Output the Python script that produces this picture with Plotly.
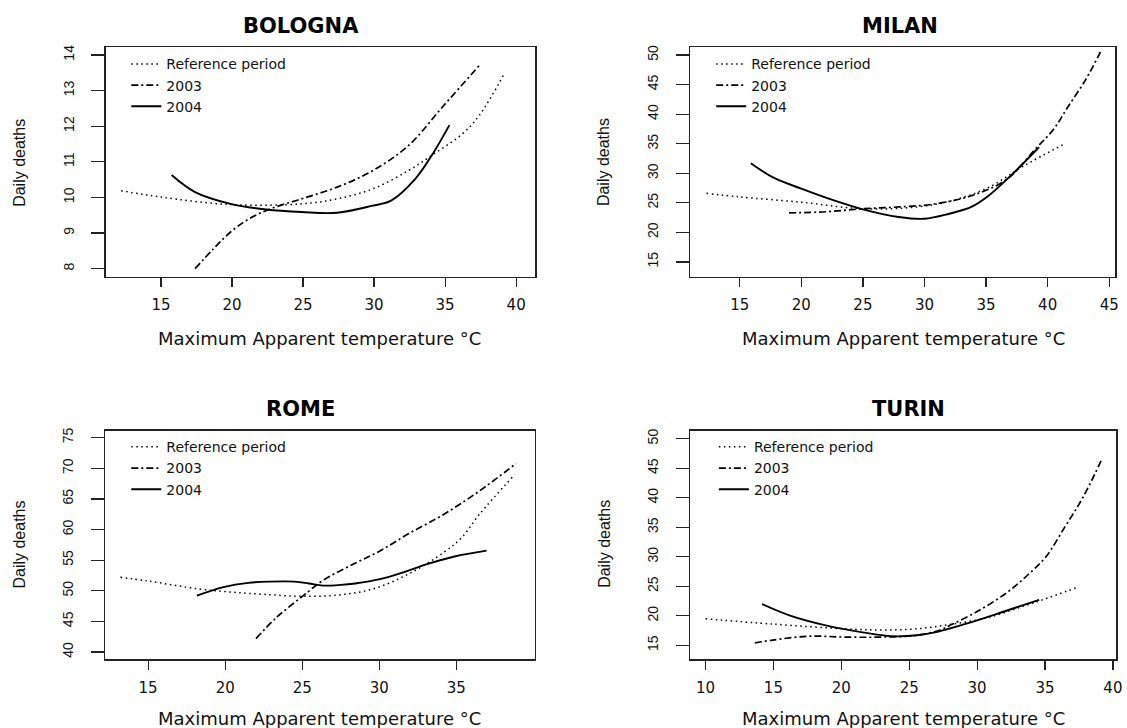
import plotly.graph_objects as go

W, H = 1127, 728

# ---------------- data ----------------
cities = ["BOLOGNA", "MILAN", "ROME", "TURIN"]
series_names = ["Reference period", "2003", "2004"]

bol_ref_x = [12.2, 15.0, 19.9, 24.9, 27.4, 29.9, 32.4, 34.2, 36.2, 37.4, 39.2]
bol_ref_y = [10.19, 10.01, 9.80, 9.82, 9.96, 10.24, 10.75, 11.22, 11.78, 12.30, 13.50]
bol_2003_x = [17.4, 18.7, 19.9, 21.2, 22.7, 24.9, 27.4, 29.9, 32.4, 34.9, 37.4]
bol_2003_y = [8.00, 8.56, 9.03, 9.40, 9.68, 9.96, 10.29, 10.75, 11.45, 12.58, 13.70]
bol_2004_x = [15.75, 17.4, 19.9, 22.4, 24.9, 27.4, 29.9, 31.2, 32.9, 34.2, 35.3]
bol_2004_y = [10.63, 10.15, 9.82, 9.66, 9.59, 9.57, 9.77, 9.91, 10.52, 11.27, 12.03]

mil_ref_x = [12.3, 15.0, 20.0, 25.0, 29.4, 32.3, 35.2, 38.1, 41.3]
mil_ref_y = [26.6, 26.0, 25.1, 24.0, 24.3, 25.4, 27.6, 31.3, 34.9]
mil_2003_x = [19.0, 22.1, 25.0, 27.9, 30.8, 33.8, 36.7, 39.0, 40.5, 41.6, 43.1, 44.4]
mil_2003_y = [23.3, 23.5, 24.0, 24.3, 24.8, 26.2, 29.0, 34.1, 37.5, 41.1, 45.9, 51.0]
mil_2004_x = [15.9, 17.7, 20.0, 22.65, 25.0, 27.9, 30.0, 32.0, 33.8, 35.2, 37.0, 38.1, 39.3]
mil_2004_y = [31.7, 29.3, 27.4, 25.4, 23.9, 22.6, 22.3, 23.15, 24.3, 26.2, 29.6, 31.85, 34.4]

rom_ref_x = [13.2, 15.0, 18.3, 20.35, 22.66, 24.97, 27.27, 29.58, 31.9, 34.2, 35.35, 36.5, 38.8]
rom_ref_y = [52.2, 51.6, 50.3, 49.8, 49.4, 49.1, 49.3, 50.3, 52.75, 56.3, 58.7, 62.5, 69.0]
rom_2003_x = [22.0, 23.35, 24.97, 26.35, 28.43, 30.04, 31.89, 34.2, 36.5, 38.88]
rom_2003_y = [42.2, 45.7, 49.0, 51.7, 54.5, 56.5, 59.3, 62.5, 66.3, 70.8]
rom_2004_x = [18.16, 19.89, 21.5, 22.9, 24.5, 25.43, 26.35, 27.5, 28.43, 30.04, 31.65, 33.04, 34.88, 36.96]
rom_2004_y = [49.2, 50.6, 51.3, 51.5, 51.5, 51.2, 50.85, 50.96, 51.2, 51.9, 53.1, 54.3, 55.6, 56.55]

tur_ref_x = [10.0, 14.96, 20.26, 22.9, 25.56, 28.2, 30.86, 33.5, 34.8, 37.35]
tur_ref_y = [19.5, 18.6, 17.8, 17.6, 17.8, 18.6, 19.75, 21.7, 22.7, 24.8]
tur_2003_x = [13.63, 14.96, 17.6, 20.26, 22.9, 25.56, 27.15, 28.2, 30.06, 32.2, 33.77, 35.1, 36.42, 37.48, 38.28, 39.2]
tur_2003_y = [15.4, 15.9, 16.55, 16.4, 16.4, 16.7, 17.5, 18.6, 20.8, 23.95, 27.0, 30.1, 34.9, 38.8, 42.2, 46.6]
tur_2004_x = [14.16, 16.28, 18.93, 21.58, 23.7, 25.56, 26.88, 29.53, 32.2, 34.57]
tur_2004_y = [22.0, 20.0, 18.35, 17.2, 16.55, 16.7, 17.2, 18.9, 20.9, 22.7]

bol_xticks = [15, 20, 25, 30, 35, 40]
bol_yticks = [8, 9, 10, 11, 12, 13, 14]
mil_xticks = [15, 20, 25, 30, 35, 40, 45]
mil_yticks = [15, 20, 25, 30, 35, 40, 45, 50]
rom_xticks = [15, 20, 25, 30, 35]
rom_yticks = [40, 45, 50, 55, 60, 65, 70, 75]
tur_xticks = [10, 15, 20, 25, 30, 35, 40]
tur_yticks = [15, 20, 25, 30, 35, 40, 45, 50]

x_title = "Maximum Apparent temperature °C"
y_title = "Daily deaths"

# ---------------- layout geometry (pixels) ----------------
panels = [
    dict(name="BOLOGNA", data=[(bol_ref_x, bol_ref_y), (bol_2003_x, bol_2003_y), (bol_2004_x, bol_2004_y)],
         xt=bol_xticks, yt=bol_yticks, xr=[11.12, 41.35], yr=[7.77, 14.22],
         box=(106.4, 538.2, 44.3, 275.0), title=(303, 23.3), xlab=(321, 336.7), ylab=(19.6, 160),
         leg=(127, 45.5)),
    dict(name="MILAN", data=[(mil_ref_x, mil_ref_y), (mil_2003_x, mil_2003_y), (mil_2004_x, mil_2004_y)],
         xt=mil_xticks, yt=mil_yticks, xr=[10.97, 45.47], yr=[12.47, 51.35],
         box=(693.8, 1121.0, 44.3, 275.0), title=(905, 23.3), xlab=(908, 336.7), ylab=(607, 160),
         leg=(715, 45.5)),
    dict(name="ROME", data=[(rom_ref_x, rom_ref_y), (rom_2003_x, rom_2003_y), (rom_2004_x, rom_2004_y)],
         xt=rom_xticks, yt=rom_yticks, xr=[12.23, 40.08], yr=[38.82, 76.13],
         box=(106.0, 537.5, 429.5, 659.0), title=(302, 407.7), xlab=(321, 718), ylab=(19.6, 543.3),
         leg=(127, 430)),
    dict(name="TURIN", data=[(tur_ref_x, tur_ref_y), (tur_2003_x, tur_2003_y), (tur_2004_x, tur_2004_y)],
         xt=tur_xticks, yt=tur_yticks, xr=[8.88, 40.23], yr=[12.64, 51.35],
         box=(694.0, 1122.0, 429.5, 659.0), title=(913, 407.7), xlab=(908, 718), ylab=(607, 543.3),
         leg=(717.7, 430)),
]

dashes = ["1.5px,3.5px", "7px,3px,2px,3px", "solid"]
widths = [1.5, 1.7, 1.9]

HFONT = "DejaVu Sans"
AFONT = "Liberation Sans, Arial, sans-serif"

fig = go.Figure()
layout = dict(width=W, height=H, margin=dict(l=0, r=0, t=0, b=0),
              paper_bgcolor="white", plot_bgcolor="white", annotations=[])

def px(x):
    return x / W

def py(y):
    return 1 - y / H

for i, p in enumerate(panels):
    k = "" if i == 0 else str(i + 1)
    legname = "legend" + k
    for j, (xs, ys) in enumerate(p["data"]):
        fig.add_trace(go.Scatter(
            x=xs, y=ys, mode="lines", name=series_names[j],
            line=dict(color="black", width=widths[j], dash=dashes[j], shape="spline", smoothing=1.0),
            xaxis="x" + k, yaxis="y" + k, legend=legname, showlegend=True,
            hoverinfo="skip"))
    l, r, t, b = p["box"]
    layout["xaxis" + k] = dict(
        domain=[px(l), px(r)], range=p["xr"], anchor="y" + k,
        tickmode="array", tickvals=p["xt"], ticks="outside", ticklen=9, tickwidth=1.2,
        tickcolor="#222", showline=True, linecolor="#222", linewidth=1.5, mirror=True,
        showgrid=False, zeroline=False, ticklabelstandoff=5,
        tickfont=dict(family=HFONT, size=15, color="#111"))
    layout["yaxis" + k] = dict(
        domain=[py(b), py(t)], range=p["yr"], anchor="x" + k,
        tickmode="array", tickvals=p["yt"], ticks="outside", ticklen=13, tickwidth=1.2,
        tickcolor="#222", showline=True, linecolor="#222", linewidth=1.5, mirror=True,
        showgrid=False, zeroline=False, tickangle=-90, ticklabelstandoff=12,
        tickfont=dict(family=AFONT, size=14, color="#111"))
    layout[legname] = dict(
        x=px(p["leg"][0]), y=py(p["leg"][1]), xanchor="left", yanchor="top",
        bgcolor="rgba(0,0,0,0)", borderwidth=0, itemwidth=30, tracegroupgap=0,
        font=dict(family=HFONT, size=14, color="#111"), itemclick=False, itemdoubleclick=False)
    layout["annotations"].append(dict(
        text="<b>%s</b>" % p["name"], x=px(p["title"][0]), y=py(p["title"][1]),
        xref="paper", yref="paper", xanchor="center", yanchor="middle", showarrow=False,
        font=dict(family=HFONT, size=21, color="black")))
    layout["annotations"].append(dict(
        text=x_title, x=px(p["xlab"][0]), y=py(p["xlab"][1]),
        xref="paper", yref="paper", xanchor="center", yanchor="middle", showarrow=False,
        font=dict(family=HFONT, size=18, color="#111")))
    layout["annotations"].append(dict(
        text=y_title, x=px(p["ylab"][0]), y=py(p["ylab"][1]), textangle=-90,
        xref="paper", yref="paper", xanchor="center", yanchor="middle", showarrow=False,
        font=dict(family=AFONT, size=16, color="#111")))

fig.update_layout(**layout)
fig.write_html(
    "out.html",
    config={"displayModeBar": False, "staticPlot": True},
    post_script="document.documentElement.style.margin='0';document.body.style.margin='0';"
                "document.body.style.padding='0';document.body.style.overflow='hidden';",
)
